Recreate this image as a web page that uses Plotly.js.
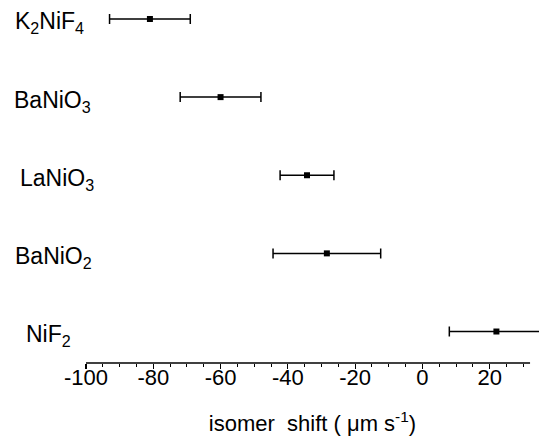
<!DOCTYPE html>
<html>
<head>
<meta charset="utf-8">
<script src="https://cdn.plot.ly/plotly-3.0.1.min.js"></script>
<style>html,body{margin:0;padding:0;background:#fff;}#chart{width:539px;height:436px;}</style>
</head>
<body>
<div id="chart"></div>
<script>
// Data
const compounds = ["K<sub>2</sub>NiF<sub>4</sub>", "BaNiO<sub>3</sub>", "LaNiO<sub>3</sub>", "BaNiO<sub>2</sub>", "NiF<sub>2</sub>"];
const isomerShift = [-81, -60, -34.3, -28.4, 22];
const shiftError = [12, 12, 8, 16, 14];
const rowIndex = [5, 4, 3, 2, 1];
const xTickValues = [-100, -80, -60, -40, -20, 0, 20];
const xTickLabels = ["-100", "-80", "-60", "-40", "-20", "0", "20"];
const axisStart = -100, axisEnd = 32;

// Layout-only settings
const labelLeftPx = [13, 12, 18, 13, 24];
const ml = 86, mr = 0, W = 539;
const plotW = W - ml - mr;

const FONT = "Arial, 'Liberation Sans', Helvetica, sans-serif";

const trace = {
  type: "scatter",
  mode: "markers",
  x: isomerShift,
  y: rowIndex,
  cliponaxis: false,
  marker: {symbol: "square", size: 6, color: "#000"},
  error_x: {type: "data", array: shiftError, visible: true, color: "#000", thickness: 1.5, width: 5},
  hoverinfo: "x",
  showlegend: false
};

const annotations = compounds.map((c, i) => ({
  text: c,
  xref: "paper",
  x: (labelLeftPx[i] - ml) / plotW,
  xanchor: "left",
  yref: "y",
  y: rowIndex[i],
  yanchor: "middle",
  yshift: -4,
  showarrow: false,
  font: {family: FONT, size: 23, color: "#000"}
}));

const layout = {
  width: 539,
  height: 436,
  margin: {l: ml, r: mr, t: 0, b: 73},
  paper_bgcolor: "#fff",
  plot_bgcolor: "#fff",
  font: {family: FONT, color: "#000"},
  xaxis: {
    range: [-100, 34.66],
    showgrid: false,
    zeroline: false,
    showline: false,
    ticks: "outside",
    ticklen: 5,
    tickwidth: 1.2,
    tickcolor: "#000",
    tickvals: xTickValues,
    ticktext: xTickLabels,
    ticklabelstandoff: -10,
    tickfont: {family: FONT, size: 22, color: "#000"},
    minor: {dtick: 5, ticks: "outside", ticklen: 3, tickwidth: 1, tickcolor: "#000", showgrid: false},
    title: {text: "isomer\u00a0 shift ( \u03bcm s<sup>-1</sup>)", font: {family: FONT, size: 22, color: "#000"}, standoff: 35},
    automargin: false,
    fixedrange: true
  },
  yaxis: {
    range: [0.597, 5.243],
    visible: false,
    showgrid: false,
    zeroline: false,
    fixedrange: true
  },
  shapes: [{
    type: "line", xref: "x", yref: "paper",
    x0: axisStart, x1: axisEnd, y0: 0, y1: 0,
    line: {color: "#000", width: 1.5}
  }],
  annotations: annotations
};

Plotly.newPlot("chart", [trace], layout, {displayModeBar: false, staticPlot: true});
</script>
</body>
</html>
